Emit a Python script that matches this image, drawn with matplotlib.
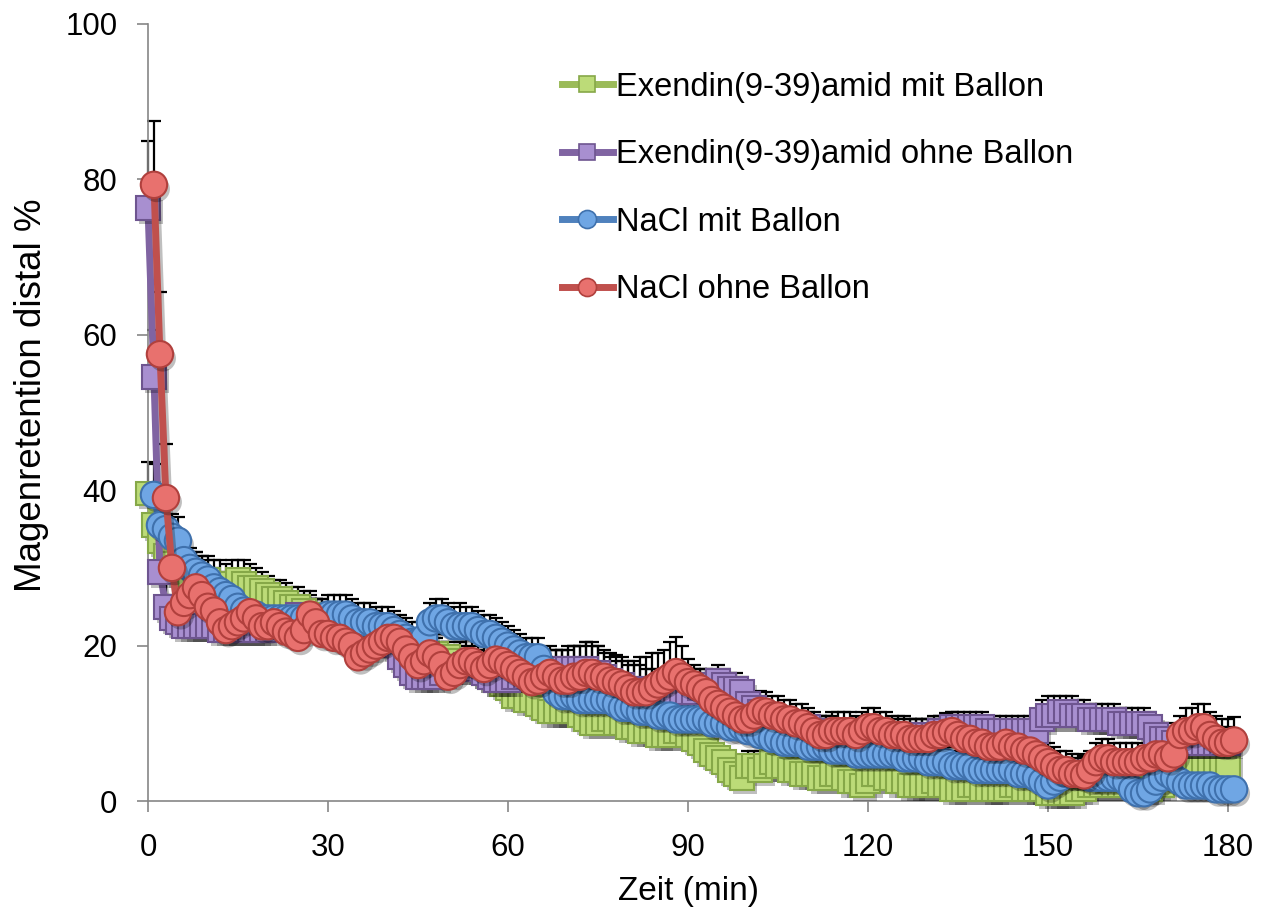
import numpy as np
import matplotlib
matplotlib.use("Agg")
import matplotlib.pyplot as plt
import matplotlib.patheffects as pe
from matplotlib.lines import Line2D

plt.rcParams['font.family'] = ['Liberation Sans', 'DejaVu Sans']

# Zeitpunkte (min)
zeit_exendin = np.arange(0, 181)
zeit_nacl = np.arange(1, 182)

# Exendin(9-39)amid mit Ballon
exendin_mit = [
    39.6, 35.5, 33.5, 31.5, 30.5, 29.5, 29.5, 29, 29, 28.5,
    28.5, 28, 28, 27.5, 28, 28.5, 28, 27.5, 27.5, 27,
    26.5, 26, 26, 25.5, 25, 25, 24.5, 24, 23.5, 23.5,
    23, 23, 22.5, 22.5, 22, 22, 21.5, 21.5, 21, 21,
    20.5, 20.5, 20, 20, 19.5, 19.5, 19, 19, 19, 18.5,
    18.5, 18, 18, 17.5, 17.5, 17, 16.5, 16, 15.5, 15,
    14.5, 13.5, 13.5, 13, 13, 12.5, 12, 11.5, 11.5, 11.5,
    11.5, 11.5, 11, 10.5, 10, 10, 10.5, 10.5, 10, 10,
    9.5, 9.5, 9, 9, 9, 8.5, 8.5, 8.5, 9, 9,
    8.5, 8, 7.5, 6.5, 6, 5.5, 5, 4, 3.5, 3,
    4.5, 4.5, 4, 4.5, 5, 4.5, 4.5, 4, 4, 3.5,
    3.5, 3.5, 3, 3, 3.5, 3.5, 3, 2.5, 2.5, 2,
    2.5, 3.5, 3.5, 3, 3, 2.5, 2.5, 2, 2, 2,
    2, 2.5, 2, 2, 1.5, 1.5, 1.5, 2, 2, 1.5,
    1.5, 1.5, 1.5, 1.5, 2, 2, 1.5, 1.5, 1.5, 1.5,
    1, 1, 1, 1, 1, 1.5, 1.5, 2, 2, 2,
    2.5, 2, 2, 2, 2, 2, 1.5, 1.5, 2, 2,
    3, 4, 4.5, 4.5, 4.5, 5, 5, 4.5, 5, 4.5,
    4.5,
]
exendin_mit_err = [
    4, 3.5, 3.5, 3, 3, 3, 3, 3, 3, 3,
    3, 3, 3, 3, 3, 2.5, 3, 3, 2.5, 2.5,
    2.5, 2.5, 2.5, 2.5, 2.5, 2.5, 2.5, 2.5, 2.5, 2.5,
    2.5, 2.5, 2.5, 2.5, 2.5, 2.5, 2.5, 2.5, 2.5, 2.5,
    2.5, 2.5, 2.5, 2.5, 2, 2, 2, 2, 2, 2,
    2, 2, 2, 2, 2, 2, 2, 2, 2, 2,
    2, 2, 2, 2, 2, 2, 2, 2, 2, 2,
    2, 2, 2, 2, 2, 2, 2, 2, 2, 2,
    2, 2, 2, 2, 2, 2, 2, 2, 2, 2,
    2, 2, 2, 2, 2, 2, 2, 2, 2, 2,
    2, 2, 2, 2, 2, 2, 2, 2, 2, 2,
    1.5, 1.5, 1.5, 1.5, 1.5, 1.5, 1.5, 1.5, 1.5, 1.5,
    1.5, 1.5, 1.5, 1.5, 1.5, 1.5, 1.5, 1.5, 1.5, 1.5,
    1.5, 1.5, 1.5, 1.5, 1.5, 1.5, 1.5, 1.5, 1.5, 1.5,
    1.5, 1.5, 1.5, 1.5, 1.5, 1.5, 1.5, 1.5, 1.5, 1.5,
    1.5, 1.5, 1.5, 1.5, 1.5, 1.5, 1.5, 1.5, 1.5, 1.5,
    1.5, 1.5, 1.5, 1.5, 1.5, 1.5, 1.5, 1.5, 1.5, 1.5,
    2, 2, 2, 2, 2, 2, 2, 2, 2, 2,
    2,
]

# Exendin(9-39)amid ohne Ballon
exendin_ohne = [
    76.3, 54.6, 29.5, 25, 23.5, 23, 22.5, 22.5, 22.5, 22.5,
    22.5, 22.5, 22, 22, 22, 22, 22, 22, 22, 22,
    22, 22.5, 23, 23, 23.5, 24, 23.5, 23.5, 23, 23,
    22.5, 22.5, 22.5, 22, 22, 21.5, 21.5, 21.5, 22, 21.5,
    21, 20, 18.5, 17.5, 16.5, 16, 16, 16, 16, 16.5,
    17, 17, 17, 17.5, 17.5, 17, 16.5, 16, 15.5, 15.5,
    15.5, 16, 16, 16, 16, 16.5, 16.5, 17, 17, 17,
    17, 17, 17, 17, 16.5, 16.5, 16, 15.5, 15, 15,
    14.5, 14.5, 14.5, 14, 14, 14, 14, 14, 14, 14,
    14, 14, 14.5, 15, 15, 15.5, 15, 14.5, 14.5, 14,
    12.5, 12, 11.5, 11, 10.5, 10.5, 10, 10, 9.5, 9.5,
    9.5, 9, 9, 9, 9, 8.5, 8.5, 8.5, 8.5, 8.5,
    8.5, 8.5, 8.5, 8.5, 8.5, 8.5, 8.5, 8.5, 8.5, 8.5,
    8.5, 8.5, 9, 9, 9.5, 9.5, 9.5, 9.5, 9.5, 9.5,
    9, 9, 9, 9, 9, 9, 9, 9, 9, 10.5,
    11, 11, 11.5, 11.5, 11, 11, 11, 10.5, 10.5, 10.5,
    10.5, 10.5, 10, 10, 10, 10, 10, 9.5, 8.5, 8,
    8, 7.5, 7.5, 7.5, 7.5, 7.5, 7.5, 7.5, 7.5, 7.5,
    7.5,
]
exendin_ohne_err = [
    8.7, 6, 4, 3, 3, 3, 3, 3, 3, 3,
    3, 3, 3, 3, 3, 3, 3, 3, 3, 3,
    3, 2.5, 2.5, 2.5, 2.5, 2.5, 2.5, 2.5, 2.5, 2.5,
    2.5, 2.5, 2.5, 2.5, 2.5, 2.5, 2.5, 2.5, 2.5, 2.5,
    2.5, 2.5, 2.5, 2.5, 2.5, 2.5, 2.5, 2.5, 2.5, 2.5,
    2.5, 2.5, 2.5, 2.5, 2.5, 2.5, 2.5, 2.5, 2.5, 2.5,
    2.5, 2.5, 2.5, 2.5, 2.5, 2.5, 2.5, 2.5, 2.5, 2.5,
    3, 3, 3, 3.5, 3.5, 3.5, 3, 3, 3, 3,
    3, 3, 3, 3, 3, 3, 3, 3, 3, 3,
    3, 3, 2.5, 2, 2, 2, 2, 2, 2, 2,
    2, 2, 2, 2, 2, 2, 2, 2, 2, 2,
    2, 2, 2, 2, 2, 2, 2, 2, 2, 2,
    2, 2, 2, 2, 2, 2, 2, 2, 2, 2,
    2, 2, 2, 2, 2, 2, 2, 2, 2, 2,
    2, 2, 2, 2, 2, 2, 2, 2, 2, 2.5,
    2.5, 2.5, 2, 2, 2.5, 2, 2, 2, 2, 2,
    2, 2, 2, 2, 2, 2, 2, 2, 2, 2,
    2, 2, 2, 2, 2, 2, 2, 2, 2, 2,
    2,
]

# NaCl mit Ballon
nacl_mit = [
    39.4, 35.5, 35, 34, 33.5, 31, 30, 29.5, 29, 28.5,
    27.5, 27, 26.5, 26, 25, 24.5, 24, 24, 23.5, 23.5,
    23.5, 23.5, 23.5, 23.5, 23.5, 23.5, 23.5, 23.5, 23.5, 24,
    24, 24, 24, 23.5, 23, 23, 23, 22.5, 22.5, 22.5,
    22, 21.5, 21, 20.5, 20.5, 21, 23, 23.5, 23.5, 23,
    22.5, 22.5, 22.5, 22.5, 22, 21.5, 21.5, 21, 20.5, 20,
    19.5, 19, 18.5, 18.5, 18.5, 17, 15.5, 14, 13.5, 13.5,
    13.5, 13, 13, 13, 13, 13, 13, 12.5, 12, 12,
    12, 11.5, 11.5, 11.5, 11, 11, 11, 10.5, 10.5, 10.5,
    10.5, 10.5, 10.5, 10, 10, 10, 9.5, 9.5, 9.5, 9,
    9, 8.5, 8.5, 8, 8, 7.5, 7.5, 7.5, 7.5, 7,
    7, 7, 7, 6.5, 6.5, 6.5, 6.5, 6, 6, 6,
    6, 6, 6, 6, 6, 5.5, 5.5, 5.5, 5.5, 5,
    5, 5, 5, 4.5, 4.5, 4.5, 4.5, 4, 4, 4,
    4, 4, 4, 4, 3.5, 3.5, 3.5, 3, 2.5, 2,
    2.5, 3, 3.5, 3.5, 3.5, 3.5, 3, 3, 3, 3,
    3, 3, 2.5, 1.5, 1, 1, 1.5, 2.5, 3, 3.5,
    3, 2.5, 2, 2, 2, 2, 2, 1.5, 1.5, 1.5,
    1.5,
]
nacl_mit_err = [
    4, 3, 3, 3, 3, 2.5, 2.5, 2.5, 2.5, 2.5,
    2.5, 2.5, 2.5, 2.5, 2.5, 2.5, 2.5, 2.5, 2.5, 2.5,
    2.5, 2.5, 2.5, 2.5, 2.5, 2.5, 2.5, 2.5, 2.5, 2.5,
    2.5, 2.5, 2.5, 2.5, 2.5, 2.5, 2.5, 2.5, 2.5, 2.5,
    2.5, 2.5, 2.5, 2.5, 2.5, 2.5, 2.5, 2.5, 2.5, 2.5,
    2.5, 3, 2.5, 2.5, 2.5, 2.5, 2.5, 2.5, 2.5, 2.5,
    2.5, 2.5, 2.5, 2.5, 2.5, 2.5, 2.5, 2.5, 2.5, 2.5,
    2.5, 2.5, 2.5, 2.5, 2.5, 2.5, 2.5, 2.5, 2.5, 2.5,
    2.5, 2.5, 2.5, 2.5, 2.5, 2.5, 2.5, 2.5, 2.5, 2.5,
    2.5, 2.5, 2.5, 2.5, 2.5, 2.5, 2.5, 2.5, 2.5, 2.5,
    2.5, 2.5, 2.5, 2.5, 2.5, 2.5, 2.5, 2.5, 2.5, 2.5,
    2, 2, 2, 2, 2, 2, 2, 2, 2, 2,
    2, 2, 2, 2, 2, 2, 2, 2, 2, 2,
    2, 2, 2, 2, 2, 2, 2, 2, 2, 2,
    2, 2, 2, 2, 2, 2, 2, 2, 2, 2,
    2, 2, 2, 2, 2, 2, 2, 2, 2, 2,
    2, 2, 2, 2, 2, 2, 2, 2, 2, 2,
    2, 2, 2, 2, 2, 2, 2, 2, 2, 2,
    2,
]

# NaCl ohne Ballon
nacl_ohne = [
    79.3, 57.5, 39, 30, 24.3, 25.5, 26.5, 27.5, 26.5, 25,
    24.5, 23, 22, 22.5, 23, 23.5, 24.3, 23.5, 22.5, 22.5,
    23, 22.5, 21.8, 21.5, 21, 22, 24, 23, 21.5, 21.5,
    21, 21, 20.5, 20, 18.5, 19, 19.5, 20, 20.5, 21,
    21, 20.5, 19.5, 18.5, 17.5, 18, 19, 18.5, 17.5, 16,
    16.5, 17.5, 18, 18, 17.5, 17, 17.5, 18.2, 18, 17.5,
    17, 16.5, 16, 15.3, 15.5, 16, 16.5, 16, 15.5, 15.5,
    16, 16, 16.5, 16.5, 16, 16, 15.5, 15.3, 15, 14.5,
    14, 14, 14, 14.5, 15, 15.5, 16, 16.6, 16, 15.3,
    15, 14.5, 14, 13, 12.5, 12, 11.5, 11, 10.5, 10.5,
    11, 11.6, 11.5, 11, 11, 10.5, 10.5, 10, 10, 9.5,
    9, 8.5, 8.5, 9, 9, 9, 9, 8.5, 9, 9.5,
    9.5, 9, 9, 8.5, 8.5, 8.5, 8, 8, 8, 8,
    8.5, 8.5, 8.8, 9, 8.5, 8, 8, 7.5, 7.5, 7,
    7, 7, 7.5, 7, 7, 6.5, 6.5, 6, 5.5, 5,
    4.5, 4, 4, 3.5, 3.5, 3.3, 4, 5, 5.5, 5.5,
    5, 5, 5, 5, 5, 5.5, 5.5, 6, 6, 5.5,
    6, 8.5, 9, 9, 9.5, 9.5, 8.5, 8, 7.5, 7.5,
    7.8,
]
nacl_ohne_err = [
    8.2, 8, 7, 5, 3.5, 3, 3, 3, 3, 3,
    3, 3, 3, 3, 3, 3, 3, 3, 3, 3,
    3, 3, 3, 3, 3, 3, 3, 3, 3, 3,
    3, 3, 3, 3, 3, 3, 3, 3, 3, 3,
    3, 3, 3, 3, 3, 3, 3, 3, 3, 3,
    3, 3, 3, 3, 3, 3, 3, 3, 3, 3,
    3, 3, 3, 3.5, 3.5, 3.5, 3.5, 3.5, 4, 4,
    4, 4, 4, 4, 4, 3.5, 3.5, 3.5, 3.5, 3.5,
    4, 4.5, 4.5, 4.5, 4, 4, 4.5, 4.5, 4, 3,
    2.5, 2.5, 2.5, 2.5, 2.5, 2.5, 2.5, 2.5, 2.5, 2.5,
    2.5, 2.5, 2.5, 2.5, 2.5, 2.5, 2.5, 2.5, 2.5, 2.5,
    2.5, 2.5, 2.5, 2.5, 2.5, 2.5, 2.5, 2.5, 2.5, 2.5,
    2.5, 2.5, 2.5, 2.5, 2.5, 2.5, 2.5, 2.5, 2.5, 2.5,
    2.5, 2.5, 2.5, 2.5, 2.5, 2.5, 2.5, 2.5, 2.5, 2.5,
    2.5, 2.5, 2.5, 2.5, 2.5, 2.5, 2.5, 2.5, 2.5, 2.5,
    2.5, 2.5, 2.5, 2.5, 2.5, 2.5, 2.5, 2.5, 2.5, 2.5,
    2.5, 2.5, 2.5, 2.5, 2.5, 2.5, 2.5, 2.5, 2.5, 2.5,
    2.5, 2.5, 3, 3, 3, 3, 3, 3, 3, 3,
    3,
]

serien = [
    ("Exendin(9-39)amid mit Ballon", zeit_exendin, exendin_mit, exendin_mit_err,
     "s", "#9BBB59", "#BCDB78", "#86A848"),
    ("Exendin(9-39)amid ohne Ballon", zeit_exendin, exendin_ohne, exendin_ohne_err,
     "s", "#8064A2", "#A88FD0", "#6E5590"),
    ("NaCl mit Ballon", zeit_nacl, nacl_mit, nacl_mit_err,
     "o", "#4F81BD", "#6FA6E4", "#3F71AD"),
    ("NaCl ohne Ballon", zeit_nacl, nacl_ohne, nacl_ohne_err,
     "o", "#C0504D", "#E8716E", "#B0403D"),
]

fig = plt.figure(figsize=(12.7, 9.08), dpi=100)
ax = fig.add_axes([0.1165, 0.1178, 0.8505, 0.8558])

# Fehlerbalken (nur nach oben) unter den Markern
for name, x, y, err, m, lc, fc, ec in serien:
    y = np.array(y)
    err = np.array(err)
    ax.errorbar(x, y, yerr=[np.zeros_like(err), err], fmt="none",
                ecolor="black", elinewidth=1.6, capsize=5, capthick=1.6,
                zorder=2, clip_on=False)

shadow = [pe.SimpleLineShadow(offset=(2, -3), shadow_color="black", alpha=0.25), pe.Normal()]
patch_shadow = [pe.SimplePatchShadow(offset=(2, -3), shadow_rgbFace="black", alpha=0.25), pe.Normal()]

legend_handles = []
for i, (name, x, y, err, m, lc, fc, ec) in enumerate(serien):
    z = 3 + 2 * i
    ms = 17 if m == "s" else 19
    ax.plot(x, y, "-", color=lc, lw=5, zorder=z, clip_on=False,
            solid_capstyle="round", path_effects=shadow)
    ax.plot(x, y, linestyle="none", marker=m, ms=ms, mfc=fc, mec=ec, mew=1.5,
            zorder=z + 1, clip_on=False, path_effects=patch_shadow)
    legend_handles.append(Line2D([], [], color=lc, lw=5, marker=m,
                                 ms=12 if m == "s" else 13, mfc=fc, mec=ec, mew=1.2))

ax.set_xlim(0, 180)
ax.set_ylim(0, 100)
ax.set_xticks(range(0, 181, 30))
ax.set_yticks(range(0, 101, 20))
ax.tick_params(axis="both", which="major", direction="out", length=8, width=1.2,
               color="#868686", labelsize=22.5)
ax.tick_params(axis="x", pad=15)
ax.tick_params(axis="y", pad=14)
for s in ["top", "right"]:
    ax.spines[s].set_visible(False)
for s in ["left", "bottom"]:
    ax.spines[s].set_color("#868686")
    ax.spines[s].set_linewidth(1.2)

ax.set_xlabel("Zeit (min)", fontsize=24, va="center")
ax.xaxis.set_label_coords(0.5, -0.116)
ax.set_ylabel("Magenretention distal %", fontsize=26.5, va="center")
ax.yaxis.set_label_coords(-0.108, 0.522)

fig.legend(handles=legend_handles, labels=[s[0] for s in serien],
           loc="upper left", bbox_to_anchor=(0.4425, 0.921), frameon=False,
           fontsize=23.5, handlelength=1.55, handletextpad=0.1,
           labelspacing=1.12, borderpad=0, borderaxespad=0)

fig.savefig("out.png", dpi=100)
